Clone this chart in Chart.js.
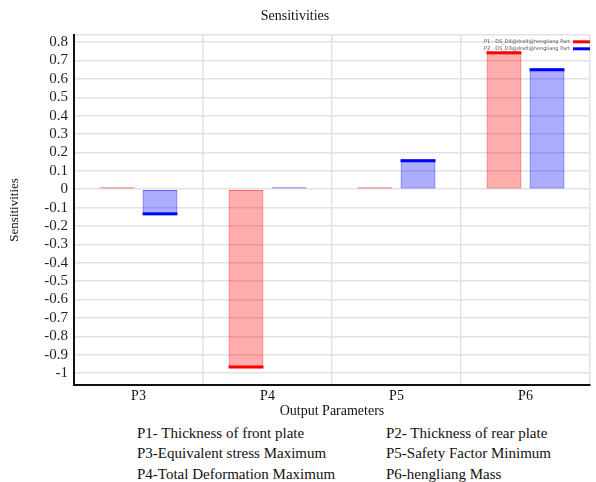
<!DOCTYPE html>
<html>
<head>
<meta charset="utf-8">
<script src="https://cdn.jsdelivr.net/npm/chart.js@4.4.0/dist/chart.umd.min.js"></script>
<style>
  body { margin: 0; background: #fff; width: 596px; height: 482px; overflow: hidden; }
  #wrap { position: relative; width: 596px; height: 420px; }
  .notes { position: absolute; left: 0; top: 0; width: 596px; font-family: 'Liberation Serif', serif; font-size: 15px; color: #111; }
  .notes div { position: absolute; white-space: nowrap; }
</style>
</head>
<body>
<div id="wrap"><canvas id="chart"></canvas></div>
<div class="notes" style="top:0">
  <div style="left:137px; top:425px">P1- Thickness of front plate</div>
  <div style="left:386px; top:425px">P2- Thickness of rear plate</div>
  <div style="left:137px; top:445px">P3-Equivalent stress Maximum</div>
  <div style="left:386px; top:445px">P5-Safety Factor Minimum</div>
  <div style="left:137px; top:466px">P4-Total Deformation Maximum</div>
  <div style="left:386px; top:466px">P6-hengliang Mass</div>
</div>
<script>
// Sensitivities chart data
const categories = ['P3', 'P4', 'P5', 'P6'];
const p1Values = [0.003, -0.975, 0.002, 0.75];
const p2Values = [-0.142, 0.002, 0.163, 0.658];
const seriesLabels = ['P1 - DS_D4@draft@hengliang Part', 'P2 - DS_D3@draft@hengliang Part'];
const yTicks = [0.8, 0.7, 0.6, 0.5, 0.4, 0.3, 0.2, 0.1, 0, -0.1, -0.2, -0.3, -0.4, -0.5, -0.6, -0.7, -0.8, -0.9, -1];

const serif = "'Liberation Serif', 'Times New Roman', serif";
Chart.defaults.font.family = serif;
Chart.defaults.color = '#1a1f2e';

// thick line on the value end of each bar
const capPlugin = {
    id: 'caps',
    afterDatasetsDraw(chart) {
        const ctx = chart.ctx;
        const capColors = ['#ff0000', '#0000ff'];
        chart.data.datasets.forEach((ds, i) => {
            const meta = chart.getDatasetMeta(i);
            meta.data.forEach((bar, j) => {
                const v = ds.data[j];
                if (Math.abs(v) < 0.02) return;
                ctx.save();
                ctx.fillStyle = capColors[i];
                const y = v > 0 ? bar.y : bar.y - 3;
                ctx.fillRect(bar.x - bar.width / 2, y, bar.width, 3);
                ctx.restore();
            });
        });
    }
};

// small legend in top right corner
const legendPlugin = {
    id: 'miniLegend',
    afterDraw(chart) {
        const ctx = chart.ctx;
        const right = chart.chartArea.right;
        const top = chart.chartArea.top;
        const boxColors = ['#ff0000', '#0000ff'];
        ctx.save();
        ctx.font = "5px 'DejaVu Sans'";
        ctx.textAlign = 'right';
        ctx.textBaseline = 'middle';
        seriesLabels.forEach((lab, i) => {
            const y = top + 7 + i * 7;
            ctx.fillStyle = '#555';
            ctx.fillText(lab, right - 20, y);
            ctx.fillStyle = boxColors[i];
            ctx.fillRect(right - 17, y - 1.5, 17, 3);
        });
        ctx.restore();
    }
};

const ctx = document.getElementById('chart');

new Chart(ctx, {
    type: 'bar',
    data: {
        labels: categories,
        datasets: [{
            label: seriesLabels[0],
            data: p1Values,
            backgroundColor: 'rgba(255, 0, 0, 0.32)',
            borderColor: 'rgba(255, 0, 0, 0.6)',
            borderWidth: 1,
            borderSkipped: false,
            minBarLength: 2
        }, {
            label: seriesLabels[1],
            data: p2Values,
            backgroundColor: 'rgba(0, 0, 255, 0.32)',
            borderColor: 'rgba(0, 0, 255, 0.6)',
            borderWidth: 1,
            borderSkipped: false,
            minBarLength: 2
        }]
    },
    options: {
        responsive: true,
        maintainAspectRatio: false,
        animation: false,
        layout: { padding: { left: 0, right: 6, top: 0, bottom: 0 } },
        datasets: {
            bar: { categoryPercentage: 0.667, barPercentage: 0.81 }
        },
        plugins: {
            legend: { display: false },
            tooltip: { enabled: false },
            title: {
                display: true,
                text: 'Sensitivities',
                color: '#111',
                font: { family: serif, size: 14, weight: 'normal' },
                padding: { top: 8, bottom: 10 }
            }
        },
        scales: {
            x: {
                grid: { offset: true, color: '#e2e2e2', lineWidth: 1.5, drawTicks: false },
                border: { color: '#111', width: 2 },
                ticks: { padding: 3, font: { family: serif, size: 14 }, color: '#111' },
                title: {
                    display: true,
                    text: 'Output Parameters',
                    color: '#111',
                    font: { family: serif, size: 14 },
                    padding: { top: 0, bottom: 0 }
                },
                afterFit: function (scale) { scale.height = 35; }
            },
            y: {
                min: -1.065,
                max: 0.84,
                afterBuildTicks: function (scale) {
                    const t = yTicks.map(v => ({ value: v }));
                    t.push({ value: scale.max });
                    scale.ticks = t;
                },
                grid: { color: '#e2e2e2', lineWidth: 1.5, drawTicks: false },
                border: { color: '#111', width: 2 },
                ticks: {
                    autoSkip: false,
                    padding: 6,
                    font: { family: serif, size: 15 },
                    color: '#1a1f2e',
                    callback: function (value) {
                        if (!yTicks.includes(value)) return '';
                        return String(Number(value.toFixed(1)));
                    }
                },
                title: {
                    display: true,
                    text: 'Sensitivities',
                    color: '#111',
                    font: { family: serif, size: 13 },
                    padding: { top: 7, bottom: 0 }
                },
                afterFit: function (scale) { scale.width = 74; }
            }
        }
    },
    plugins: [capPlugin, legendPlugin]
});
</script>
</body>
</html>
